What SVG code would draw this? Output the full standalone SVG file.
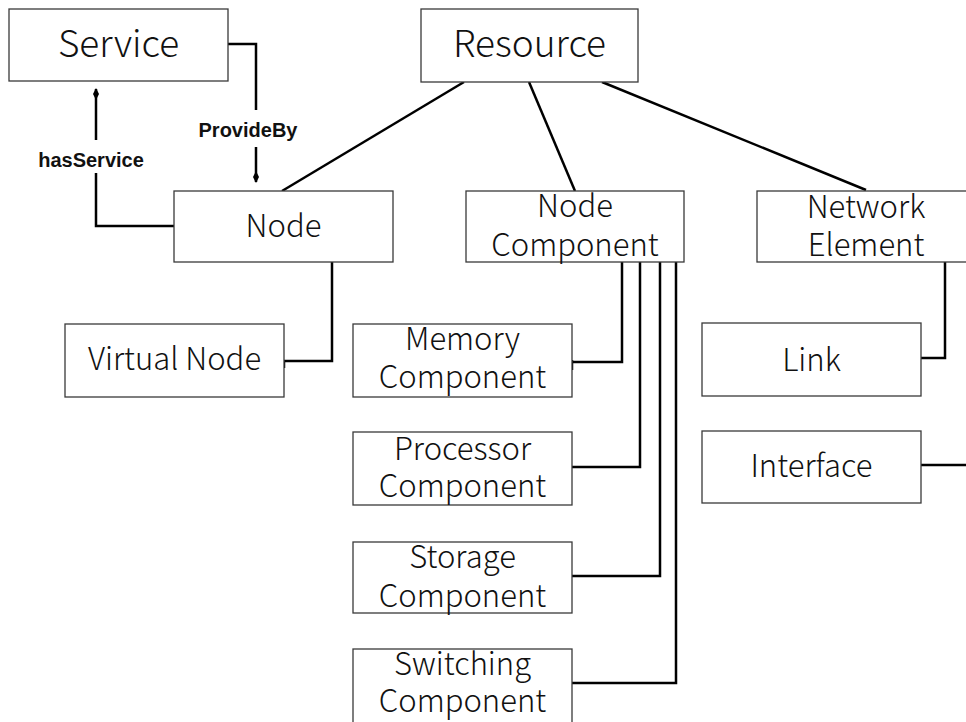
<svg xmlns="http://www.w3.org/2000/svg" width="966" height="722" viewBox="0 0 966 722">
  <style>
    .box { fill: #ffffff; stroke: #3a3a3a; stroke-width: 1.3; }
    .lbl { font-family: "Noto Sans CJK JP", "Noto Sans", sans-serif; font-weight: 300; font-size: 31px; fill: #111; text-anchor: middle; }
    .big { font-size: 37px; }
    .edge { fill: none; stroke: #000; stroke-width: 2.5; }
    .rel { font-family: "Liberation Sans", Arial, sans-serif; font-size: 20px; font-weight: bold; fill: #111; text-anchor: middle; }
  </style>
  <defs>
    <marker id="diamond" viewBox="0 0 12 7" refX="11" refY="3.5" markerWidth="12" markerHeight="7" markerUnits="userSpaceOnUse" orient="auto">
      <path d="M0,3.5 L6,0.5 L12,3.5 L6,6.5 Z" fill="#000"/>
    </marker>
  </defs>

  <rect width="966" height="722" fill="#ffffff"/>

  <!-- connectors -->
  <g id="connectors">
    <!-- Resource to its three subclasses -->
    <line class="edge" x1="464" y1="82" x2="282" y2="191"/>
    <line class="edge" x1="529" y1="82" x2="575" y2="191"/>
    <line class="edge" x1="602" y1="82" x2="866" y2="190"/>
    <!-- ProvideBy: Service to Node -->
    <polyline class="edge" points="228,44 256,44 256,110"/>
    <line class="edge" x1="256" y1="147" x2="256" y2="182" marker-end="url(#diamond)"/>
    <!-- hasService: Node to Service -->
    <polyline class="edge" points="175,226 96,226 96,173"/>
    <line class="edge" x1="96" y1="140" x2="96" y2="89" marker-end="url(#diamond)"/>
    <!-- Node to Virtual Node -->
    <polyline class="edge" points="332,262 332,361 284,361"/>
    <line class="edge" x1="284" y1="361" x2="284" y2="368"/>
    <!-- Node Component to its parts -->
    <polyline class="edge" points="622,262 622,362 572,362"/>
    <line class="edge" x1="572" y1="360" x2="572" y2="370"/>
    <polyline class="edge" points="640,262 640,467 572,467"/>
    <polyline class="edge" points="660,262 660,576 572,576"/>
    <polyline class="edge" points="676,262 676,683 572,683"/>
    <!-- Network Element to Link and Interface -->
    <polyline class="edge" points="945,262 945,358 921,358"/>
    <line class="edge" x1="921" y1="465" x2="968" y2="465"/>
  </g>

  <g id="service">
    <rect class="box" x="9" y="9" width="219" height="72"/>
    <text class="lbl big" x="118.5" y="57">Service</text>
  </g>
  <g id="resource">
    <rect class="box" x="421" y="9" width="217" height="73"/>
    <text class="lbl big" x="529.5" y="57">Resource</text>
  </g>
  <g id="node">
    <rect class="box" x="174" y="191" width="219" height="71"/>
    <text class="lbl" x="283.5" y="237">Node</text>
  </g>
  <g id="node-component">
    <rect class="box" x="466" y="191" width="218" height="71"/>
    <text class="lbl" x="575" y="217">Node</text>
    <text class="lbl" x="575" y="256">Component</text>
  </g>
  <g id="network-element">
    <rect class="box" x="757" y="191" width="218" height="71"/>
    <text class="lbl" x="866" y="218">Network</text>
    <text class="lbl" x="866" y="256">Element</text>
  </g>
  <g id="virtual-node">
    <rect class="box" x="65" y="324" width="219" height="73"/>
    <text class="lbl" x="174.5" y="370">Virtual Node</text>
  </g>
  <g id="memory-component">
    <rect class="box" x="353" y="324" width="219" height="73"/>
    <text class="lbl" x="462.5" y="350">Memory</text>
    <text class="lbl" x="462.5" y="388">Component</text>
  </g>
  <g id="processor-component">
    <rect class="box" x="353" y="432" width="219" height="73"/>
    <text class="lbl" x="462.5" y="460">Processor</text>
    <text class="lbl" x="462.5" y="497">Component</text>
  </g>
  <g id="storage-component">
    <rect class="box" x="353" y="542" width="219" height="71"/>
    <text class="lbl" x="462.5" y="568">Storage</text>
    <text class="lbl" x="462.5" y="607">Component</text>
  </g>
  <g id="switching-component">
    <rect class="box" x="353" y="649" width="219" height="80"/>
    <text class="lbl" x="462.5" y="675">Switching</text>
    <text class="lbl" x="462.5" y="712">Component</text>
  </g>
  <g id="link">
    <rect class="box" x="702" y="323" width="219" height="73"/>
    <text class="lbl" x="811.5" y="371">Link</text>
  </g>
  <g id="interface">
    <rect class="box" x="702" y="431" width="219" height="72"/>
    <text class="lbl" x="811.5" y="477">Interface</text>
  </g>

  <g id="relation-labels">
    <text class="rel" x="248" y="137">ProvideBy</text>
    <text class="rel" x="91" y="167">hasService</text>
  </g>
</svg>
